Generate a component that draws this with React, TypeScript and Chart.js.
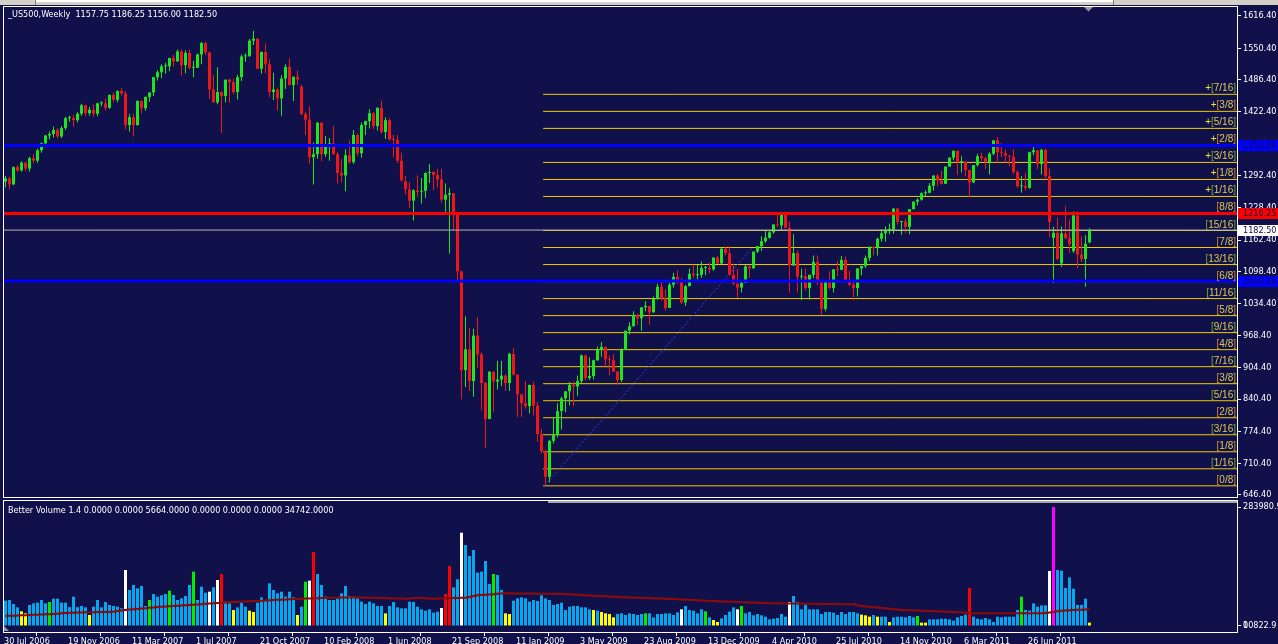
import React, { useEffect, useRef } from 'react';
import { Chart, registerables } from 'chart.js';

Chart.register(...registerables);

const BG = '#10104a';
const UI_FONT = "'DejaVu Sans Condensed', 'Liberation Sans', sans-serif";
const LABEL_FONT = "'Liberation Sans', Arial, sans-serif";
const BULL = '#1de61d';
const BEAR = '#ee1616';

const TITLE = '_US500,Weekly  1157.75 1186.25 1156.00 1182.50';
const VOLUME_TITLE = 'Better Volume 1.4 0.0000 0.0000 5664.0000 0.0000 0.0000 0.0000 34742.0000';

// one label every 16 weekly bars, starting at bar 0
const DATE_LABELS = [
  '30 Jul 2006', '19 Nov 2006', '11 Mar 2007', '1 Jul 2007', '21 Oct 2007', '10 Feb 2008',
  '1 Jun 2008', '21 Sep 2008', '11 Jan 2009', '3 May 2009', '23 Aug 2009', '13 Dec 2009',
  '4 Apr 2010', '25 Jul 2010', '14 Nov 2010', '6 Mar 2011', '26 Jun 2011',
];

const PRICE_TICKS = [1616.4, 1550.4, 1486.4, 1422.4, 1292.4, 1228.4, 1162.4, 1098.4, 1034.4, 968.4, 904.4, 840.4, 774.4, 710.4, 646.4];

// weekly candles, 30 Jul 2006 .. 9 Oct 2011
const OPEN = [
  1281, 1287, 1275, 1310, 1303, 1319, 1307, 1328, 1323, 1344, 1358, 1374, 1377, 1385, 1372, 1389, 1409, 1409, 1405, 1418, 1435, 1419,
  1426, 1418, 1439, 1439, 1430, 1456, 1446, 1464, 1459, 1395, 1411, 1395, 1444, 1429, 1452, 1461, 1492, 1502, 1514, 1514, 1531, 1524, 1544, 1516, 1541, 1511,
  1511, 1538, 1561, 1542, 1467, 1441, 1462, 1454, 1487, 1482, 1462, 1492, 1534, 1535, 1566, 1570, 1509, 1543, 1518, 1462, 1467, 1449, 1489, 1513, 1476, 1493,
  1473, 1417, 1406, 1330, 1336, 1400, 1336, 1355, 1358, 1336, 1298, 1293, 1334, 1320, 1375, 1338, 1395, 1403, 1419, 1393, 1430, 1381, 1405, 1366, 1365, 1323,
  1281, 1265, 1242, 1263, 1260, 1262, 1298, 1300, 1294, 1285, 1244, 1254, 1257, 1213, 1099, 899, 941, 877, 969, 931, 873, 800, 896, 876, 880, 888,
  873, 932, 890, 850, 832, 826, 869, 827, 770, 735, 683, 756, 768, 816, 842, 856, 869, 866, 877, 929, 883, 887, 919, 940, 946, 921, 919,
  896, 879, 940, 979, 988, 1011, 1004, 1026, 1029, 1016, 1043, 1068, 1044, 1025, 1072, 1088, 1080, 1036, 1069, 1094, 1091, 1092, 1106, 1106, 1103, 1127,
  1115, 1145, 1136, 1092, 1074, 1066, 1076, 1109, 1105, 1139, 1150, 1160, 1167, 1178, 1194, 1192, 1217, 1187, 1111, 1136, 1088, 1089, 1065, 1092, 1118, 1077,
  1023, 1078, 1065, 1103, 1102, 1122, 1079, 1072, 1065, 1105, 1110, 1126, 1149, 1146, 1165, 1176, 1183, 1183, 1226, 1199, 1200, 1189, 1225, 1240, 1244, 1257,
  1258, 1272, 1293, 1283, 1276, 1311, 1329, 1343, 1320, 1321, 1304, 1279, 1314, 1332, 1328, 1320, 1337, 1364, 1340, 1338, 1333,
  1331, 1300, 1271, 1272, 1268, 1340, 1344, 1316, 1345, 1292, 1167, 1177, 1115, 1176, 1166, 1140, 1212, 1133, 1124, 1157.75,
];
const HIGH = [
  1292, 1291, 1311, 1314, 1322, 1321, 1331, 1336, 1347, 1360, 1375, 1382, 1392, 1389, 1393, 1412, 1414, 1416, 1421, 1438, 1436, 1432,
  1437, 1440, 1443, 1449, 1457, 1461, 1465, 1470, 1464, 1418, 1418, 1445, 1445, 1453, 1461, 1492, 1506, 1518, 1521, 1531, 1537, 1548, 1548, 1546, 1548, 1525,
  1540, 1563, 1564, 1543, 1496, 1512, 1463, 1487, 1489, 1489, 1497, 1538, 1540, 1569, 1586, 1571, 1544, 1560, 1528, 1501, 1471, 1496, 1518, 1531, 1493, 1506,
  1476, 1421, 1433, 1360, 1401, 1401, 1373, 1369, 1393, 1340, 1326, 1346, 1364, 1385, 1378, 1400, 1404, 1427, 1421, 1431, 1445, 1411, 1409, 1375, 1375, 1339,
  1292, 1280, 1265, 1293, 1288, 1299, 1316, 1302, 1306, 1306, 1277, 1267, 1257, 1215, 1100, 1008, 985, 983, 1007, 935, 875, 897, 896, 918, 918, 890,
  934, 944, 890, 851, 877, 870, 875, 835, 780, 739, 758, 803, 832, 845, 857, 875, 876, 888, 930, 930, 925, 920, 947, 956, 947, 928, 931,
  898, 943, 979, 996, 1018, 1013, 1027, 1039, 1029, 1048, 1074, 1080, 1063, 1076, 1096, 1101, 1086, 1072, 1105, 1113, 1112, 1119, 1110, 1117, 1127, 1130,
  1145, 1150, 1150, 1115, 1104, 1080, 1112, 1112, 1139, 1150, 1170, 1181, 1182, 1194, 1213, 1218, 1220, 1200, 1174, 1141, 1104, 1105, 1092, 1131, 1131, 1080,
  1078, 1099, 1103, 1120, 1130, 1129, 1100, 1079, 1105, 1110, 1131, 1149, 1150, 1167, 1184, 1190, 1196, 1227, 1227, 1200, 1206, 1225, 1241, 1247, 1259, 1263,
  1278, 1293, 1296, 1302, 1311, 1330, 1344, 1344, 1332, 1323, 1304, 1314, 1337, 1339, 1331, 1340, 1365, 1371, 1359, 1346, 1334,
  1346, 1303, 1292, 1298, 1341, 1356, 1344, 1347, 1347, 1307, 1189, 1208, 1190, 1231, 1204, 1220, 1220, 1170, 1172, 1186.25,
];
const LOW = [
  1269, 1265, 1273, 1300, 1301, 1302, 1301, 1318, 1319, 1339, 1350, 1366, 1370, 1368, 1369, 1385, 1402, 1392, 1401, 1414, 1413, 1414,
  1412, 1413, 1433, 1424, 1428, 1441, 1441, 1455, 1386, 1382, 1372, 1394, 1419, 1424, 1442, 1454, 1485, 1490, 1499, 1504, 1513, 1523, 1495, 1500, 1508, 1492,
  1511, 1518, 1537, 1448, 1440, 1437, 1379, 1441, 1440, 1457, 1447, 1484, 1523, 1533, 1557, 1508, 1499, 1500, 1452, 1446, 1424, 1414, 1468, 1475, 1444, 1476,
  1416, 1375, 1317, 1275, 1327, 1322, 1331, 1323, 1335, 1277, 1279, 1261, 1317, 1317, 1332, 1329, 1375, 1388, 1387, 1384, 1378, 1367, 1364, 1330, 1319, 1281,
  1254, 1227, 1202, 1250, 1236, 1247, 1278, 1263, 1268, 1238, 1219, 1135, 1181, 1077, 840, 865, 857, 845, 904, 818, 741, 800, 815, 860, 867, 857,
  857, 888, 804, 804, 821, 812, 808, 754, 730, 665, 672, 751, 763, 779, 814, 828, 826, 847, 872, 878, 879, 880, 918, 926, 904, 888, 896,
  869, 875, 940, 971, 987, 990, 979, 1018, 991, 1015, 1041, 1040, 1019, 1025, 1066, 1074, 1033, 1029, 1069, 1085, 1083, 1086, 1091, 1095, 1100, 1114,
  1114, 1131, 1090, 1071, 1045, 1056, 1076, 1086, 1105, 1136, 1140, 1157, 1165, 1175, 1188, 1183, 1185, 1056, 1110, 1056, 1041, 1060, 1042, 1085, 1071, 1011,
  1018, 1063, 1056, 1089, 1102, 1076, 1069, 1040, 1048, 1091, 1106, 1120, 1131, 1131, 1159, 1159, 1174, 1175, 1194, 1173, 1176, 1174, 1224, 1233, 1242, 1251,
  1257, 1262, 1271, 1275, 1276, 1311, 1324, 1294, 1299, 1291, 1249, 1278, 1311, 1322, 1306, 1295, 1334, 1318, 1330, 1318, 1311,
  1296, 1268, 1258, 1262, 1266, 1334, 1306, 1295, 1283, 1168, 1075, 1121, 1108, 1164, 1136, 1136, 1105, 1118, 1068, 1156,
];
const CLOSE = [
  1287, 1275, 1310, 1303, 1319, 1307, 1328, 1323, 1344, 1358, 1374, 1377, 1385, 1372, 1389, 1409, 1409, 1405, 1418, 1435, 1419, 1426,
  1418, 1439, 1439, 1430, 1456, 1446, 1464, 1459, 1395, 1411, 1395, 1444, 1429, 1452, 1461, 1492, 1502, 1514, 1514, 1531, 1524, 1544, 1516, 1541, 1511, 1511,
  1538, 1561, 1542, 1467, 1441, 1462, 1454, 1487, 1482, 1462, 1492, 1534, 1535, 1566, 1570, 1509, 1543, 1518, 1462, 1467, 1449, 1489, 1513, 1476, 1493, 1487,
  1417, 1406, 1330, 1336, 1400, 1336, 1355, 1358, 1336, 1298, 1293, 1334, 1320, 1375, 1338, 1395, 1403, 1419, 1393, 1430, 1381, 1405, 1366, 1365, 1323, 1283,
  1265, 1242, 1263, 1260, 1262, 1298, 1300, 1294, 1285, 1244, 1254, 1257, 1215, 1099, 899, 941, 877, 969, 931, 873, 800, 896, 876, 880, 888, 873,
  932, 890, 850, 832, 826, 869, 827, 770, 735, 683, 756, 768, 816, 842, 856, 869, 866, 877, 929, 883, 887, 919, 940, 946, 921, 919, 896,
  879, 940, 979, 988, 1011, 1004, 1026, 1029, 1016, 1043, 1068, 1044, 1025, 1072, 1088, 1080, 1036, 1069, 1094, 1091, 1092, 1106, 1106, 1103, 1127, 1115,
  1145, 1136, 1092, 1074, 1066, 1076, 1109, 1105, 1139, 1150, 1160, 1167, 1178, 1194, 1192, 1217, 1187, 1111, 1136, 1088, 1089, 1065, 1092, 1118, 1077, 1023,
  1078, 1065, 1103, 1102, 1122, 1079, 1072, 1065, 1105, 1110, 1126, 1149, 1146, 1165, 1176, 1183, 1183, 1226, 1199, 1200, 1189, 1225, 1240, 1244, 1257, 1258,
  1272, 1293, 1283, 1276, 1311, 1329, 1343, 1320, 1321, 1304, 1279, 1314, 1332, 1328, 1320, 1337, 1364, 1340, 1338, 1333, 1331,
  1300, 1271, 1272, 1268, 1340, 1344, 1316, 1345, 1292, 1199, 1177, 1124, 1176, 1166, 1154, 1212, 1133, 1124, 1155, 1182.5,
];

// volume in thousands, and its bar class (B blue, Y yellow, W white, R red, G green, M magenta)
const VOLUME_K = [
  60.5, 62.0, 52.5, 44.5, 35.0, 30.2, 50.1, 54.1, 55.7, 62.0,
  54.1, 57.3, 65.2, 65.2, 55.7, 55.7, 45.0, 70.0, 45.0, 47.7,
  44.5, 26.3, 46.1, 62.0, 44.5, 57.3, 50.1, 47.7, 46.1, 42.2,
  133.6, 85.9, 97.8, 89.9, 95.5, 47.7, 62.0, 76.4, 70.0, 73.2,
  76.4, 84.3, 74.0, 62.0, 66.0, 71.6, 97.8, 129.7, 62.0, 93.9,
  79.6, 81.9, 92.3, 109.8, 124.1, 58.1, 54.1, 38.2, 44.5, 55.7,
  46.1, 36.6, 33.4, 55.7, 68.4, 62.0, 101.8, 85.9, 78.0, 81.9,
  70.0, 81.9, 68.4, 26.3, 46.1, 105.8, 108.2, 176.6, 124.1, 97.8,
  70.0, 62.0, 62.0, 66.0, 78.0, 95.5, 71.6, 70.0, 66.0, 58.1,
  52.5, 58.1, 54.1, 47.7, 47.7, 30.2, 47.7, 57.3, 44.5, 42.2,
  42.2, 58.1, 57.3, 46.1, 39.8, 36.6, 39.8, 31.8, 34.2, 43.0,
  76.4, 143.2, 92.3, 111.4, 222.7, 193.3, 167.1, 181.4, 127.3, 129.7,
  155.1, 100.2, 124.1, 121.7, 85.9, 30.2, 28.6, 60.5, 66.0, 68.4,
  66.0, 58.1, 62.0, 59.7, 73.2, 66.0, 62.0, 50.1, 52.5, 55.7,
  38.2, 46.1, 47.7, 47.7, 44.5, 44.5, 39.8, 38.2, 36.6, 33.4,
  30.2, 28.6, 20.7, 28.6, 30.2, 26.3, 30.2, 28.6, 26.3, 28.6,
  30.2, 30.2, 20.7, 28.6, 28.6, 30.2, 30.2, 26.3, 32.6, 39.8,
  47.7, 38.2, 36.6, 30.2, 39.8, 35.0, 20.7, 14.3, 9.5, 18.3,
  26.3, 34.2, 44.5, 39.8, 47.7, 30.2, 33.4, 25.5, 28.6, 25.5,
  22.3, 15.9, 17.5, 19.1, 28.6, 22.3, 57.3, 71.6, 57.3, 39.8,
  50.9, 39.8, 39.8, 39.8, 28.6, 33.4, 33.4, 31.8, 26.3, 33.4,
  28.6, 33.4, 33.4, 30.2, 27.0, 25.5, 22.3, 26.3, 22.3, 22.3,
  22.3, 9.5, 20.7, 22.3, 22.3, 20.7, 23.9, 20.7, 23.9, 8.0,
  8.0, 15.9, 15.9, 15.9, 17.5, 17.5, 15.9, 12.7, 20.7, 23.9,
  27.0, 90.7, 22.3, 17.5, 15.9, 19.1, 15.9, 9.5, 22.3, 20.7,
  22.3, 22.3, 22.3, 38.2, 70.0, 38.2, 36.6, 54.1, 46.1, 49.3,
  49.3, 131.3, 283.98, 133.6, 132.1, 90.7, 116.1, 89.1, 50.1, 50.1,
  65.2, 8.0,
];
const VOLUME_TYPE = [
  'BBBBYYBBBB', 'BGBBBBBBBB', 'BYBBBBBBBB', 'WBBBBBGBBB', 'BGBBBBBGBB', 'BWBWRBBYBB', 'BYYBBBBBBB', 'BBBYBGWRBB', 'BBBBBBBBBB', 'BBBBBYBBBB', 'BBBB',
  'BBBBBW', 'RRBBWBBBBB', 'BBGBBYYBBB', 'BBBBBBBBBB', 'BBBBBBBYBY', 'YYYBBBBBBB', 'GBBBBBBBBW', 'BBBBBGBYYB', 'BBBWGBBBBB', 'BBBBBBWBBB', 'BBBBBBBBBB', 'BB',
  'BBYYYBYB', 'BYBBBBBBGY', 'YBBBBBBBBB', 'BRBBBBBBBB', 'BBBBGBBBBB', 'BWMBBBBBBB', 'BY',
].join('');
const VOLUME_MA_K = [
  23.9, 24.3, 24.7, 25.1, 25.5, 25.9, 26.3, 26.7, 27.0, 27.4,
  27.8, 28.2, 28.6, 29.4, 30.2, 30.9, 31.7, 31.9, 32.1, 32.4,
  32.6, 32.8, 33.0, 33.2, 33.5, 33.7, 33.9, 34.1, 35.5, 36.8,
  38.2, 39.1, 40.0, 40.8, 41.7, 42.6, 43.4, 44.3, 45.2, 46.1,
  46.7, 47.2, 47.8, 48.4, 48.9, 49.5, 50.1, 50.8, 51.5, 52.2,
  52.8, 53.5, 54.2, 54.9, 55.6, 56.1, 56.6, 57.0, 57.5, 58.0,
  58.5, 59.0, 59.5, 59.9, 60.4, 60.9, 61.4, 61.9, 62.4, 62.9,
  63.4, 63.9, 64.4, 64.7, 65.1, 65.4, 65.8, 66.1, 66.5, 66.8,
  67.0, 67.2, 67.4, 67.6, 67.9, 68.1, 68.3, 68.5, 68.2, 68.0,
  67.7, 67.4, 67.2, 66.9, 66.7, 66.4, 66.1, 65.9, 65.6, 65.4,
  65.1, 65.7, 66.4, 67.0, 66.8, 66.2, 65.7, 65.1, 65.4, 65.7,
  66.0, 66.3, 66.6, 66.9, 67.2, 67.5, 69.4, 71.4, 73.3, 74.0,
  74.6, 75.3, 76.0, 76.7, 77.3, 78.0, 77.9, 77.8, 77.7, 77.6,
  77.5, 77.4, 77.3, 77.2, 77.1, 77.0, 76.9, 76.8, 76.7, 76.6,
  76.4, 75.8, 75.3, 74.7, 74.1, 73.5, 72.9, 72.3, 71.8, 71.3,
  70.8, 70.4, 69.9, 69.4, 68.9, 68.5, 68.2, 67.8, 67.5, 67.1,
  66.8, 66.5, 66.1, 65.8, 65.4, 65.1, 64.7, 64.2, 63.8, 63.3,
  62.9, 62.4, 62.0, 61.4, 60.8, 60.3, 59.7, 59.4, 59.0, 58.7,
  58.3, 58.0, 57.6, 57.3, 56.9, 56.6, 56.2, 55.8, 55.4, 55.0,
  54.6, 54.2, 54.1, 54.0, 53.8, 53.7, 53.6, 53.5, 53.4, 53.3,
  53.2, 53.0, 52.9, 52.8, 52.7, 52.6, 52.5, 52.4, 52.3, 52.1,
  52.0, 51.8, 51.8, 49.8, 47.7, 46.8, 45.8, 44.9, 44.0, 43.1,
  42.2, 41.2, 40.2, 39.2, 38.2, 37.8, 37.5, 37.1, 36.7, 36.4,
  36.0, 35.6, 35.3, 34.9, 34.5, 34.2, 33.8, 33.4, 33.1, 32.7,
  31.5, 30.3, 30.3, 30.3, 30.3, 30.3, 30.3, 30.3, 30.3, 30.3,
  30.3, 30.3, 30.3, 30.3, 30.3, 30.3, 30.3, 30.3, 30.3, 30.3,
  31.2, 32.2, 33.6, 35.0, 36.5, 37.1, 37.6, 38.2, 38.6, 39.0,
  39.5, 39.9,
];

// Murrey math levels
const MM_LEVELS = [
  664.90, 699.35, 733.80, 768.25, 802.70, 837.15, 871.60, 906.05, 940.50, 974.95, 1009.40, 1043.85,
  1078.30, 1112.75, 1147.20, 1181.65, 1216.10, 1250.55, 1285.00, 1319.45, 1353.90, 1388.35, 1422.80, 1457.25,
];
const MM_LABELS = [
  '[0/8]', '[1/16]', '[1/8]', '[3/16]', '[2/8]', '[5/16]', '[3/8]', '[7/16]', '[4/8]', '[9/16]', '[5/8]', '[11/16]',
  '[6/8]', '[13/16]', '[7/8]', '[15/16]', '[8/8]', '+[1/16]', '+[1/8]', '+[3/16]', '+[2/8]', '+[5/16]', '+[3/8]', '+[7/16]',
];
const MM_START_BAR = 134.4;

const KEY_LEVELS = [1353.86, 1216.25, 1079.26];
const KEY_LEVEL_COLORS = ['#0000ff', '#ff0000', '#0000ff'];
const LAST_PRICE = 1182.5;
const TREND_BARS = [134.9, 186.6];
const TREND_PRICES = [666, 1146];

const VOL_AXIS_LABELS = ['0', '10822.9', '283980.9'];
const VOL_AXIS_VALUES = [0, 0.01, 283.9809];

const X_MIN = -0.375;
const X_MAX = 307.875;

const VOL_COLORS: Record<string, string> = {
  B: '#04a8ee', Y: '#ffff00', W: '#ffffff', R: '#ff0000', G: '#00ee00', M: '#ff00ff',
};

function zeroPad(s: any) {
  s.paddingTop = 0; s.paddingBottom = 0; s.paddingLeft = 0; s.paddingRight = 0;
}

const bgPlugin = {
  id: 'bgFill',
  beforeDraw(chart: any) {
    const ctx = chart.ctx;
    ctx.save();
    ctx.fillStyle = BG;
    ctx.fillRect(0, 0, chart.width, chart.height);
    ctx.restore();
  },
};

const mainOverlay = {
  id: 'mainOverlay',
  afterDraw(chart: any) {
    const ctx = chart.ctx;
    const y = chart.scales.y;
    const a = chart.chartArea;
    ctx.save();
    // window strip
    ctx.fillStyle = '#d4d0c8';
    ctx.fillRect(0, 0, chart.width, 5);
    ctx.fillStyle = '#ffffff';
    ctx.fillRect(36, 0, 1077, 2);
    ctx.fillStyle = '#808080';
    ctx.fillRect(35, 0, 1, 5);
    ctx.fillRect(1113, 0, 1, 5);
    // panel frame
    ctx.strokeStyle = '#ffffff';
    ctx.lineWidth = 1;
    ctx.strokeRect(a.left - 0.5, a.top - 0.5, a.right - a.left + 1, a.bottom - a.top + 1);
    // shift marker
    ctx.fillStyle = '#9a9aa6';
    ctx.beginPath();
    ctx.moveTo(1084, 7);
    ctx.lineTo(1093, 7);
    ctx.lineTo(1088.5, 11.5);
    ctx.closePath();
    ctx.fill();
    // title
    ctx.font = `9px ${UI_FONT}`;
    ctx.fillStyle = '#ffffff';
    ctx.textBaseline = 'middle';
    ctx.textAlign = 'left';
    ctx.fillText(TITLE, 8, 15);
    // murrey labels
    ctx.font = `10px ${LABEL_FONT}`;
    ctx.textBaseline = 'alphabetic';
    MM_LEVELS.forEach((v, k) => {
      const py = y.getPixelForValue(v);
      const label = MM_LABELS[k];
      const plus = label.startsWith('+');
      const body = plus ? label.slice(1) : label;
      const inner = body.slice(1, -1);
      const is16 = inner.endsWith('/16');
      const br = is16 ? '#74b02a' : '#dc8a2a';
      const parts: [string, string][] = [];
      if (plus) parts.push(['+', '#e6e632']);
      parts.push(['[', br], [inner, '#dcca50'], [']', br]);
      const total = parts.reduce((s, p) => s + ctx.measureText(p[0]).width, 0);
      let x = 1236 - total;
      for (const [t, c] of parts) {
        ctx.fillStyle = c;
        ctx.fillText(t, x, py - 3);
        x += ctx.measureText(t).width;
      }
    });
    // price boxes on the axis
    ctx.font = `9px ${UI_FONT}`;
    ctx.textBaseline = 'middle';
    const boxes: [number, string][] = [
      [KEY_LEVELS[0], KEY_LEVEL_COLORS[0]],
      [KEY_LEVELS[1], KEY_LEVEL_COLORS[1]],
      [LAST_PRICE, '#ffffff'],
      [KEY_LEVELS[2], KEY_LEVEL_COLORS[2]],
    ];
    for (const [v, c] of boxes) {
      const py = Math.round(y.getPixelForValue(v));
      ctx.fillStyle = c;
      ctx.fillRect(1238, py - 5, 40, 11);
      ctx.fillStyle = '#0c0c40';
      ctx.fillText(v.toFixed(2), 1243, py + 0.5);
    }
    ctx.restore();
  },
};

const volOverlay = {
  id: 'volOverlay',
  afterDraw(chart: any) {
    const ctx = chart.ctx;
    const a = chart.chartArea;
    ctx.save();
    ctx.strokeStyle = '#ffffff';
    ctx.lineWidth = 1;
    ctx.strokeRect(a.left - 0.5, a.top - 0.5, a.right - a.left + 1, a.bottom - a.top + 1);
    ctx.fillStyle = '#a8a8a8';
    ctx.fillRect(548, 3, a.right - 548, 2);
    ctx.fillStyle = '#9a9aa6';
    ctx.beginPath();
    ctx.moveTo(4, 128);
    ctx.lineTo(4, 133);
    ctx.lineTo(9, 133);
    ctx.closePath();
    ctx.fill();
    ctx.font = `9px ${UI_FONT}`;
    ctx.fillStyle = '#ffffff';
    ctx.textBaseline = 'middle';
    ctx.textAlign = 'left';
    ctx.fillText(VOLUME_TITLE, 8, 13);
    ctx.restore();
  },
};

function mainConfig(): any {
  const bars = CLOSE.map((_, i) => i);
  const colors = CLOSE.map((c, i) => (c >= OPEN[i] ? BULL : BEAR));
  const hline = (v: number, from: number) => [{ x: from, y: v }, { x: X_MAX, y: v }];
  const lineBase = { type: 'line', pointRadius: 0, tension: 0, fill: false };
  return {
    type: 'bar',
    data: {
      datasets: [
        ...KEY_LEVELS.map((v, k) => ({ ...lineBase, data: hline(v, X_MIN), borderColor: KEY_LEVEL_COLORS[k], borderWidth: 3, order: 1 })),
        { ...lineBase, data: hline(LAST_PRICE, X_MIN), borderColor: '#b4b4b4', borderWidth: 1, order: 2 },
        {
          ...lineBase,
          data: TREND_BARS.map((b, k) => ({ x: b, y: TREND_PRICES[k] })),
          borderColor: '#3c3cff', borderWidth: 1, borderDash: [2, 2], order: 3,
        },
        {
          type: 'bar', data: bars.map((i) => ({ x: i, y: [OPEN[i], CLOSE[i]] })),
          backgroundColor: colors, barThickness: 3, minBarLength: 1, grouped: false, inflateAmount: 0, order: 5,
        },
        {
          type: 'bar', data: bars.map((i) => ({ x: i, y: [LOW[i], HIGH[i]] })),
          backgroundColor: colors, barThickness: 1, grouped: false, inflateAmount: 0, order: 6,
        },
        ...MM_LEVELS.map((v) => ({ ...lineBase, data: hline(v, MM_START_BAR), borderColor: '#f2cc00', borderWidth: 1, order: 10 })),
      ],
    },
    options: {
      animation: false,
      responsive: false,
      maintainAspectRatio: false,
      devicePixelRatio: 1,
      events: [],
      layout: { padding: { left: 4, top: 7, right: 0, bottom: 1 }, autoPadding: false },
      plugins: { legend: { display: false }, tooltip: { enabled: false }, title: { display: false } },
      scales: {
        x: { type: 'linear', min: X_MIN, max: X_MAX, display: false, offset: false, afterFit: zeroPad },
        y: {
          type: 'linear', position: 'right', min: 642.3, max: 1634.0,
          afterBuildTicks: (s: any) => { s.ticks = PRICE_TICKS.map((v) => ({ value: v })); },
          afterFit: (s: any) => { s.width = 41; zeroPad(s); },
          ticks: {
            color: '#ffffff', autoSkip: false, padding: 2,
            font: { family: UI_FONT, size: 9 },
            callback: (v: any) => Number(v).toFixed(2),
          },
          grid: { display: true, drawOnChartArea: false, drawTicks: true, tickLength: 4, color: '#ffffff' },
          border: { display: false },
        },
      },
    },
    plugins: [bgPlugin, mainOverlay],
  };
}

function volConfig(): any {
  const bars = VOLUME_K.map((_, i) => i);
  return {
    type: 'bar',
    data: {
      datasets: [
        {
          type: 'line', data: VOLUME_MA_K.map((v, i) => ({ x: i, y: v })),
          borderColor: '#8c0a0a', borderWidth: 2, pointRadius: 0, stepped: 'middle', fill: false, order: 1,
        },
        {
          type: 'bar', data: bars.map((i) => ({ x: i, y: VOLUME_K[i] })),
          backgroundColor: bars.map((i) => VOL_COLORS[VOLUME_TYPE[i]] || VOL_COLORS.B),
          barThickness: 3, grouped: false, inflateAmount: 0, order: 2,
        },
      ],
    },
    options: {
      animation: false,
      responsive: false,
      maintainAspectRatio: false,
      devicePixelRatio: 1,
      events: [],
      layout: { padding: { left: 4, top: 3, right: 0, bottom: 0 }, autoPadding: false },
      plugins: { legend: { display: false }, tooltip: { enabled: false }, title: { display: false } },
      scales: {
        x: {
          type: 'linear', position: 'bottom', min: X_MIN, max: X_MAX, offset: false,
          afterBuildTicks: (s: any) => { s.ticks = DATE_LABELS.map((_, k) => ({ value: k * 16 + X_MIN })); },
          afterFit: (s: any) => { s.height = 12; zeroPad(s); },
          ticks: {
            color: '#ffffff', autoSkip: false, maxRotation: 0, minRotation: 0, padding: 0, align: 'start',
            font: { family: UI_FONT, size: 9 },
            callback: (_v: any, idx: number) => DATE_LABELS[idx],
          },
          grid: { display: true, drawOnChartArea: false, drawTicks: true, tickLength: 4, color: '#ffffff' },
          border: { display: false },
        },
        y: {
          type: 'linear', position: 'right', min: -14.32, max: 298.3,
          afterBuildTicks: (s: any) => { s.ticks = VOL_AXIS_VALUES.map((v) => ({ value: v })); },
          afterFit: (s: any) => { s.width = 41; zeroPad(s); },
          ticks: {
            color: '#ffffff', autoSkip: false, padding: 2,
            font: { family: UI_FONT, size: 9 },
            callback: (_v: any, idx: number) => VOL_AXIS_LABELS[idx],
          },
          grid: { display: true, drawOnChartArea: false, drawTicks: true, tickLength: 4, color: '#ffffff' },
          border: { display: false },
        },
      },
    },
    plugins: [bgPlugin, volOverlay],
  };
}

export default function App() {
  const mainRef = useRef<HTMLCanvasElement>(null);
  const volRef = useRef<HTMLCanvasElement>(null);

  useEffect(() => {
    document.body.style.margin = '0';
    document.body.style.background = BG;
    const c1 = new Chart(mainRef.current as HTMLCanvasElement, mainConfig());
    const c2 = new Chart(volRef.current as HTMLCanvasElement, volConfig());
    return () => {
      c1.destroy();
      c2.destroy();
    };
  }, []);

  return (
    <div style={{ position: 'relative', width: 1278, height: 644, background: BG, overflow: 'hidden' }}>
      <canvas ref={mainRef} width={1278} height={498} style={{ position: 'absolute', left: 0, top: 0, width: 1278, height: 498 }} />
      <canvas ref={volRef} width={1278} height={146} style={{ position: 'absolute', left: 0, top: 498, width: 1278, height: 146 }} />
    </div>
  );
}
